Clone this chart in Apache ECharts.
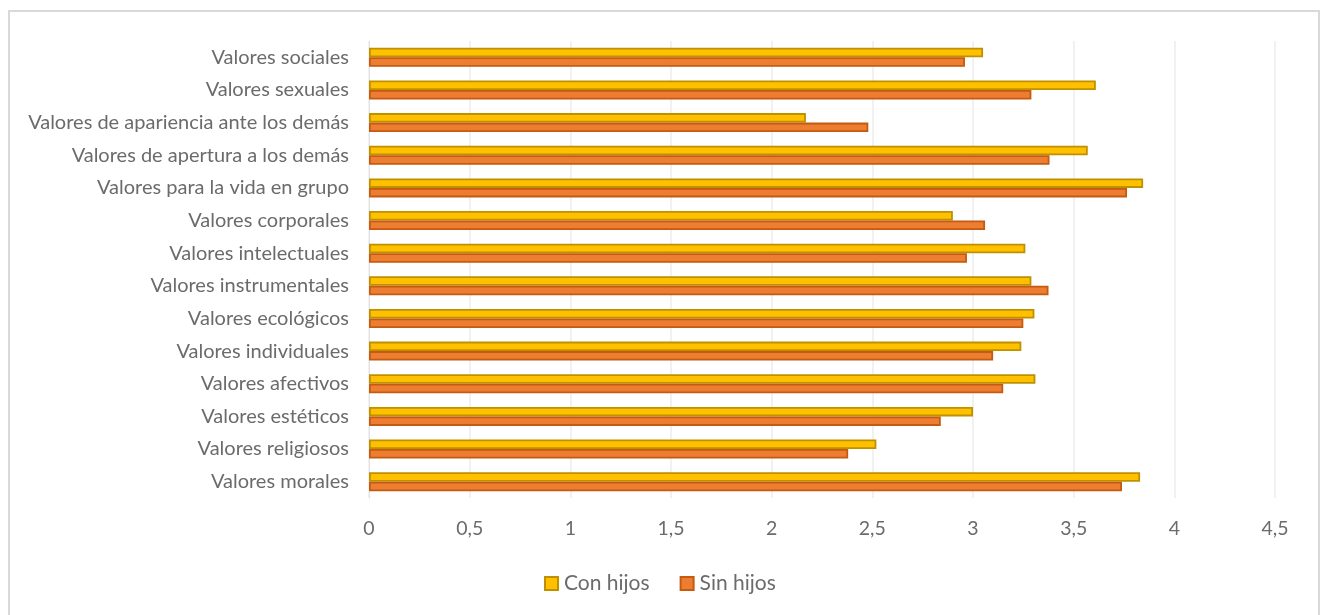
<!DOCTYPE html>
<html>
<head>
<meta charset="utf-8">
<title>Valores: con hijos / sin hijos</title>
<script src="https://cdn.jsdelivr.net/npm/echarts@6/dist/echarts.min.js"></script>
<style>
  html, body { margin: 0; padding: 0; background: #ffffff; }
  #chart { width: 1325px; height: 615px; }
</style>
</head>
<body>
<div id="chart"></div>
<script>
// Categories, listed top to bottom
const categories = [
  'Valores sociales',
  'Valores sexuales',
  'Valores de apariencia ante los demás',
  'Valores de apertura a los demás',
  'Valores para la vida en grupo',
  'Valores corporales',
  'Valores intelectuales',
  'Valores instrumentales',
  'Valores ecológicos',
  'Valores individuales',
  'Valores afectivos',
  'Valores estéticos',
  'Valores religiosos',
  'Valores morales'
];

const conHijos = [3.05, 3.61, 2.17, 3.57, 3.845, 2.90, 3.26, 3.29, 3.305, 3.24, 3.31, 3.00, 2.52, 3.83];
const sinHijos = [2.96, 3.29, 2.48, 3.38, 3.765, 3.06, 2.97, 3.375, 3.25, 3.10, 3.15, 2.84, 2.38, 3.74];

const xTicks = [0, 0.5, 1, 1.5, 2, 2.5, 3, 3.5, 4, 4.5];

const textColor = '#6b6b6b';
const fontFamily = 'Lato, "Open Sans", sans-serif';

const chart = echarts.init(document.getElementById('chart'), null, { renderer: 'canvas' });

chart.setOption({
  backgroundColor: '#ffffff',
  animation: false,
  textStyle: { fontFamily: fontFamily, color: textColor },
  graphic: [{
    type: 'rect',
    shape: { x: 9, y: 11, width: 1310, height: 612 },
    style: { fill: 'none', stroke: '#d9d9d9', lineWidth: 2 },
    silent: true
  }],
  grid: { left: 369, right: 50, top: 41, bottom: 117, containLabel: false },
  legend: {
    data: ['Con hijos', 'Sin hijos'],
    bottom: 16,
    left: 539,
    icon: 'rect',
    itemWidth: 13,
    itemHeight: 13,
    itemGap: 30,
    textStyle: { color: textColor, fontSize: 21, fontFamily: fontFamily, padding: [0, 0, 0, 1] }
  },
  xAxis: {
    type: 'value',
    min: xTicks[0],
    max: xTicks[xTicks.length - 1],
    interval: 0.5,
    axisLine: { show: false },
    axisTick: { show: false },
    splitLine: { show: true, lineStyle: { color: '#ececec', width: 1.5 } },
    axisLabel: {
      color: textColor,
      fontSize: 19.5,
      margin: 21,
      formatter: v => String(v).replace('.', ',')
    }
  },
  yAxis: {
    type: 'category',
    data: categories,
    inverse: true,
    axisLine: { show: true, lineStyle: { color: '#e3e3e3', width: 1 } },
    axisTick: { show: false },
    axisLabel: { color: textColor, fontSize: 20, margin: 20 }
  },
  series: [
    {
      name: 'Con hijos',
      type: 'bar',
      data: conHijos,
      barWidth: 9.5,
      barGap: '0%',
      itemStyle: { color: '#FFC000', borderColor: '#BF9000', borderWidth: 1.8 }
    },
    {
      name: 'Sin hijos',
      type: 'bar',
      data: sinHijos,
      barWidth: 9.5,
      barGap: '0%',
      itemStyle: { color: '#ED7D31', borderColor: '#C55A11', borderWidth: 1.8 }
    }
  ]
});
</script>
</body>
</html>
